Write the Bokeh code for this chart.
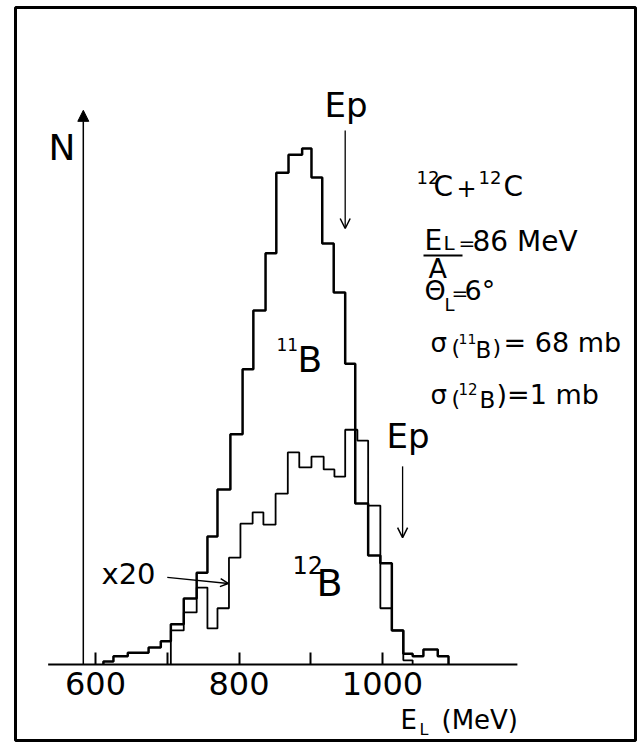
from bokeh.plotting import figure
from bokeh.models import Range1d, LinearAxis, FixedTicker, Label, Arrow, NormalHead, OpenHead
from bokeh.embed import file_html
from bokeh.resources import INLINE

# ---- data (E_L in MeV, N in arbitrary units, 11B peak = 100) ----
b11_edges = [611, 625, 645, 674, 691, 705, 723, 741, 756, 770, 788, 805, 820, 837, 852,
             869, 888, 901, 916, 932, 948, 962, 980, 997, 1013, 1029, 1042, 1057, 1077, 1092]
b11_counts = [0.6, 1.6, 2.3, 3.3, 4.5, 7.8, 12.8, 17.8, 24.8, 33.9, 44.6, 57.2, 68.6, 79.7,
              95.3, 98.8, 100.0, 94.4, 81.6, 72.1, 58.3, 31.2, 21.1, 19.6, 6.6, 2.1, 1.6, 2.9, 1.6]

b12_edges = [705, 723, 741, 756, 770, 786, 802, 819, 834, 851, 868, 884, 901, 918, 933,
             948, 965, 980, 997, 1013, 1029, 1042]
b12_counts_x20 = [6.6, 10.1, 14.9, 7.0, 10.9, 20.7, 27.3, 29.5, 27.1, 33.1, 41.1, 38.2, 40.3,
                  37.8, 36.4, 45.5, 43.4, 30.8, 10.9, 6.6, 0.8]

tick_values = [600, 700, 800, 900, 1000]
tick_labels = {600: "600", 700: "", 800: "800", 900: "", 1000: "1000"}

ep_11B = 948    # E_p marker for 11B
ep_12B = 1028   # E_p marker for 12B
axis_span = [534, 1188]
n_axis_x = 583

FONT = "DejaVu Sans"

# frame covers the whole boxed area of the page
W, H = 644, 744
ML, MR, MT, MB = 15, 9, 7, 4
FRAME_LEFT = ML
FRAME_BOTTOM = H - MB

p = figure(width=W, height=H, output_backend="svg", toolbar_location=None,
           x_axis_type=None, y_axis_type=None, title=None,
           x_range=Range1d(488.5, 1352.6), y_range=Range1d(-14.73, 127.33),
           min_border_left=ML, min_border_right=MR, min_border_top=MT, min_border_bottom=MB,
           background_fill_color="white", border_fill_color="white")
p.outline_line_color = "black"
p.outline_line_width = 3

xaxis = LinearAxis(fixed_location=0, ticker=FixedTicker(ticks=tick_values),
                   major_label_overrides=tick_labels)
xaxis.axis_line_color = None
xaxis.major_tick_in = 12
xaxis.major_tick_out = 0
xaxis.major_tick_line_width = 2
xaxis.minor_tick_line_color = None
xaxis.major_label_text_font = FONT
xaxis.major_label_text_font_size = "32px"
xaxis.major_label_text_color = "black"
xaxis.major_label_standoff = 8
p.add_layout(xaxis, "below")

# baseline of the E axis
p.line(x=axis_span, y=[0, 0], line_color="black", line_width=2)


def outline(edges, counts):
    xs, ys = [edges[0]], [0]
    for i, c in enumerate(counts):
        xs += [edges[i], edges[i + 1]]
        ys += [c, c]
    xs.append(edges[-1])
    ys.append(0)
    return xs, ys


x11, y11 = outline(b11_edges, b11_counts)
x12, y12 = outline(b12_edges, b12_counts_x20)
p.line(x=x12, y=y12, line_color="black", line_width=1.8)
p.line(x=x11, y=y11, line_color="black", line_width=2.5)

# N axis arrow
p.add_layout(Arrow(x_start=n_axis_x, y_start=0, x_end=n_axis_x, y_end=107.4,
                   line_width=1.5, end=NormalHead(size=11, fill_color="black", line_color="black")))
# E_p arrows
p.add_layout(Arrow(x_start=ep_11B, y_start=103.5, x_end=ep_11B, y_end=84.5, line_width=1.3,
                   end=OpenHead(size=10, line_width=1.5)))
p.add_layout(Arrow(x_start=ep_12B, y_start=38.4, x_end=ep_12B, y_end=24.6, line_width=1.3,
                   end=OpenHead(size=10, line_width=1.5)))
# x20 arrow
p.add_layout(Arrow(x_start=700, y_start=16.9, x_end=785, y_end=15.7, line_width=1.3,
                   end=OpenHead(size=8, line_width=1.5)))


def put(text, px, py, size):
    # px, py: left end and baseline of the text on the page
    p.add_layout(Label(x=px - FRAME_LEFT, y=FRAME_BOTTOM - py + 0.36 * size,
                       x_units="screen", y_units="screen",
                       text=text, text_font=FONT, text_font_size=f"{size}px",
                       text_align="left", text_baseline="alphabetic", text_color="black"))


put("N", 48, 160, 36)
put("Ep", 324, 117, 34)
put("Ep", 386, 448, 34)
put("11", 276, 350, 17)
put("B", 297, 372, 36)
put("12", 292, 573, 24)
put("B", 316, 596, 38)
put("x20", 101, 584, 29)

# right-hand text block
put("12", 416, 183, 18)
put("C", 433, 196, 28)
put("+", 456, 196, 24)
put("12", 478, 183, 18)
put("C", 503, 196, 28)

put("E", 424, 250, 28)
put("L", 443, 250, 20)
p.add_layout(Arrow(x_start=423 - FRAME_LEFT, y_start=FRAME_BOTTOM - 255,
                   x_end=462 - FRAME_LEFT, y_end=FRAME_BOTTOM - 255,
                   start_units="screen", end_units="screen", end=None, line_width=2))
put("A", 428, 278, 27)
put("=", 458, 250, 20)
put("86 MeV", 472, 251, 28)

put("\u0398", 424, 300, 27)
put("L", 444, 310, 18)
put("=", 451, 300, 20)
put("6\u00b0", 464, 300, 27)

put("\u03c3", 430, 352, 26)
put("(", 451, 355, 22)
put("11", 458, 344, 14)
put("B", 475, 358, 23)
put(")", 492, 355, 22)
put("= 68 mb", 503, 352, 27)

put("\u03c3", 430, 404, 26)
put("(", 451, 406, 22)
put("12", 458, 394, 15)
put("B", 479, 408, 23)
put(")=1 mb", 496, 404, 27)

put("E", 400, 729, 26)
put("L", 419, 735, 16)
put("(MeV)", 441, 729, 26)

open("out.html", "w").write(file_html(p, INLINE))
